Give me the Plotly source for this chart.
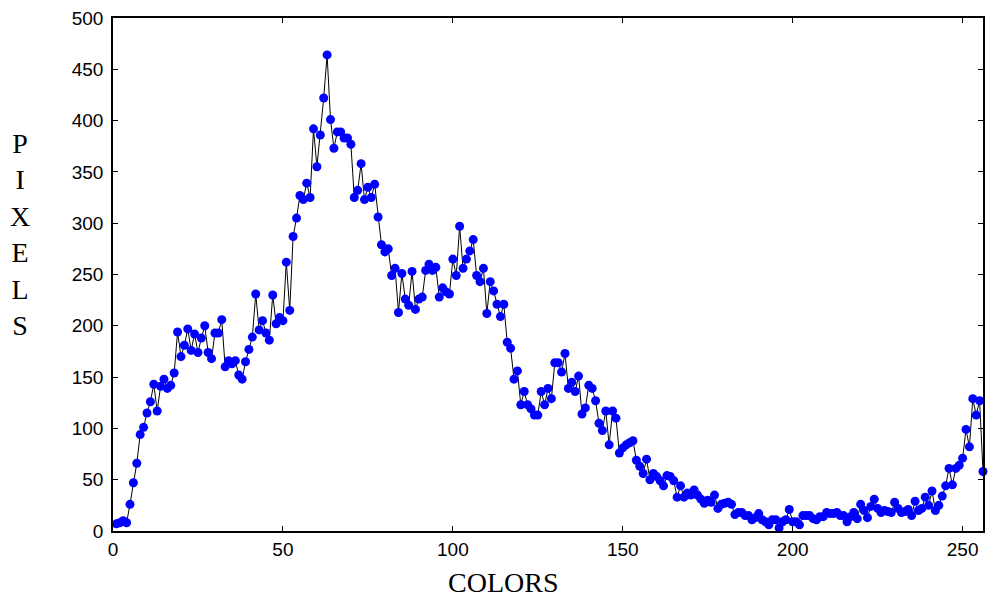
import plotly.graph_objects as go

# Colour-level histogram: pixel counts for colour levels 1..256
colors = list(range(1, 257))
pixels = [
    7, 8, 10, 8, 26, 47, 66, 94, 101, 115, 126, 143, 117, 141, 148, 139,
    142, 154, 194, 170, 181, 197, 176, 192, 174, 188, 200, 174, 168, 193, 193, 206,
    160, 166, 163, 166, 152, 148, 165, 177, 189, 231, 196, 205, 193, 186, 230, 202,
    208, 205, 262, 215, 287, 305, 327, 323, 339, 325, 392, 355, 386, 422, 464, 401,
    373, 389, 389, 383, 383, 377, 325, 332, 358, 323, 335, 325, 338, 306, 279, 272,
    275, 249, 256, 213, 251, 226, 220, 253, 216, 226, 228, 254, 260, 254, 257, 228,
    237, 233, 231, 265, 249, 297, 256, 265, 273, 284, 249, 243, 256, 212, 243, 234,
    221, 209, 221, 184, 178, 148, 156, 123, 136, 123, 119, 113, 113, 136, 123, 139,
    129, 164, 164, 155, 173, 139, 145, 136, 151, 114, 120, 142, 139, 127, 105, 98,
    117, 84, 117, 110, 76, 81, 84, 86, 88, 69, 63, 56, 70, 50, 56, 53,
    49, 44, 54, 53, 49, 33, 44, 33, 37, 35, 40, 35, 31, 27, 30, 28,
    35, 22, 26, 27, 28, 26, 16, 18, 18, 15, 15, 11, 13, 17, 11, 9,
    6, 11, 11, 3, 9, 11, 21, 9, 9, 6, 15, 15, 15, 12, 11, 14,
    14, 18, 17, 17, 18, 15, 15, 9, 14, 18, 12, 26, 20, 13, 24, 31,
    22, 18, 20, 19, 18, 28, 22, 18, 19, 21, 15, 29, 20, 22, 33, 25,
    39, 20, 25, 34, 44, 61, 45, 61, 64, 71, 99, 82, 129, 113, 127, 58,
]

x_ticks = [0, 50, 100, 150, 200, 250]
y_ticks = list(range(0, 501, 50))

fig = go.Figure()
fig.add_trace(go.Scatter(
    x=colors, y=pixels,
    mode="lines+markers",
    line=dict(color="black", width=1),
    marker=dict(color="#0000ff", size=9, line=dict(width=0)),
    cliponaxis=False,
    showlegend=False,
))

axis_common = dict(
    showline=True, linecolor="black", linewidth=1.5, mirror="allticks",
    ticks="inside", ticklen=5, tickcolor="black", tickwidth=1,
    showgrid=False, zeroline=False,
    tickfont=dict(family="Liberation Sans, Arial, sans-serif", size=19, color="black"),
)

fig.update_xaxes(range=[0, 256], tickvals=x_ticks, **axis_common)
fig.update_yaxes(range=[0, 500], tickvals=y_ticks, ticklabelstandoff=4, **axis_common)

fig.update_layout(
    width=990, height=601,
    margin=dict(l=113, r=5, t=18, b=70),
    paper_bgcolor="white", plot_bgcolor="white",
    annotations=[
        dict(text="COLORS", xref="paper", yref="paper", x=0.448, y=-0.066,
             xanchor="center", yanchor="top", showarrow=False,
             font=dict(family="Liberation Serif, Times New Roman, serif", size=28, color="black")),
        dict(text="P<br>I<br>X<br>E<br>L<br>S", xref="paper", yref="paper",
             x=-0.107, y=0.578, xanchor="center", yanchor="middle", showarrow=False,
             font=dict(family="Liberation Serif, Times New Roman, serif", size=28, color="black")),
    ],
)

fig.write_html("out.html")
